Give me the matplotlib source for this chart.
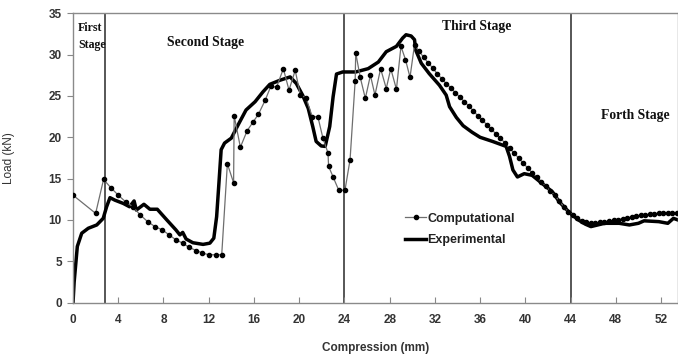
import matplotlib
matplotlib.use("Agg")
import matplotlib.pyplot as plt
from matplotlib.lines import Line2D

# Computational (FE) load-compression values
comp_x = [0, 2.0, 2.7, 3.35, 4.0, 4.65, 5.3, 5.95, 6.6, 7.25, 7.9, 8.5, 9.1, 9.7,
          10.25, 10.9, 11.45, 12.0, 12.6, 13.15, 13.65, 14.2, 14.25, 14.8, 15.4,
          15.9, 16.4, 17.0, 17.5, 18.0, 18.6, 19.1, 19.65, 20.1, 20.6, 21.15,
          21.65, 22.1, 22.55, 22.6, 23.0, 23.5, 24.05, 24.5, 24.95, 25.0, 25.4,
          25.85, 26.3, 26.7, 27.2, 27.7, 28.1, 28.6, 29.0, 29.4, 29.8, 30.2,
          30.6, 31.0, 31.4, 31.8, 32.2, 32.6, 33.0, 33.4, 33.8, 34.2, 34.6,
          35.0, 35.4, 35.8, 36.2, 36.6, 37.0, 37.4, 37.8, 38.2, 38.6, 39.0,
          39.4, 39.8, 40.2, 40.6, 41.0, 41.4, 41.8, 42.2, 42.6, 43.0, 43.4,
          43.8, 44.2, 44.6, 45.0, 45.4, 45.8, 46.2, 46.6, 47.0, 47.4, 47.8,
          48.2, 48.6, 49.0, 49.4, 49.8, 50.2, 50.6, 51.0, 51.4, 51.8, 52.2,
          52.6, 53.0, 53.4]
comp_y = [13.0, 10.8, 14.9, 13.9, 13.0, 12.2, 11.6, 10.6, 9.8, 9.2, 8.8, 8.2, 7.6, 7.2,
          6.7, 6.3, 6.0, 5.8, 5.8, 5.8, 16.8, 14.5, 22.6, 18.8, 20.8,
          21.8, 22.8, 24.5, 26.2, 26.05, 28.3, 25.7, 28.1, 25.1, 24.8, 22.5,
          22.5, 19.9, 18.1, 16.5, 15.2, 13.6, 13.6, 17.3, 26.8, 30.2, 27.25,
          24.7, 27.5, 25.1, 28.3, 25.9, 28.3, 25.8, 31.0, 29.4, 27.25, 31.2,
          30.4, 29.7, 29.0, 28.4, 27.7, 27.1, 26.5, 26.0, 25.4, 24.9, 24.3,
          23.8, 23.2, 22.6, 22.1, 21.5, 21.0, 20.4, 19.9, 19.3, 18.7, 18.1,
          17.5, 16.9, 16.3, 15.7, 15.2, 14.6, 14.1, 13.5, 13.0, 12.3, 11.6,
          11.0, 10.6, 10.2, 9.9, 9.7, 9.6, 9.6, 9.7, 9.8, 9.85, 9.95,
          10.05, 10.15, 10.25, 10.35, 10.45, 10.55, 10.6, 10.7, 10.75, 10.8, 10.8,
          10.8, 10.8, 10.8]

# Experimental load-compression values
exp_x = [0, 0.1, 0.38, 0.77, 1.35, 2.1, 2.67, 2.97, 3.27, 3.7, 4.45, 5.0, 5.4, 5.6,
         6.27, 6.8, 7.45, 8.3, 9.1, 9.45, 9.7, 10.0, 10.6, 11.5, 12.1, 12.45,
         12.7, 12.9, 13.1, 13.4, 14.0, 14.6, 15.3, 16.1, 16.8, 17.4, 18.3,
         19.2, 19.75, 20.3, 20.8, 21.2, 21.5, 21.95, 22.3, 22.7, 23.0, 23.3,
         23.85, 25.0, 26.1, 27.0, 27.7, 28.6, 29.15, 29.45, 29.9, 30.2, 30.3,
         30.8, 31.5, 32.4, 33.0, 33.3, 33.9, 34.5, 35.3, 36.0, 37.1, 38.3,
         38.6, 38.9, 39.3, 39.9, 40.6, 41.5, 42.4, 43.0, 43.9, 44.7, 45.3,
         45.8, 46.4, 47.0, 48.3, 49.2, 50.0, 50.5, 51.8, 52.6, 53.1, 53.5]
exp_y = [0, 2.5, 6.8, 8.4, 9.0, 9.4, 10.2, 11.6, 12.7, 12.4, 12.0, 11.6, 12.3, 11.2,
         11.9, 11.3, 11.3, 10.0, 8.8, 8.2, 8.5, 7.7, 7.25, 7.05, 7.2, 7.8,
         10.4, 14.4, 18.5, 19.3, 19.9, 21.5, 23.3, 24.3, 25.5, 26.4, 26.9,
         27.3, 26.5, 25.1, 23.5, 21.3, 19.5, 18.95, 18.9, 21.3, 24.9, 27.65,
         27.9, 27.9, 28.3, 29.1, 30.35, 31.0, 32.0, 32.4, 32.25, 31.8, 30.55,
         28.95, 27.7, 26.3, 25.1, 23.7, 22.4, 21.4, 20.6, 20.0, 19.5, 18.9,
         17.7, 16.05, 15.2, 15.6, 15.4, 14.4, 13.4, 12.2, 10.9, 10.0, 9.5,
         9.2, 9.4, 9.6, 9.6, 9.4, 9.6, 9.9, 9.8, 9.6, 10.2, 10.0]

stage_bounds = [2.8, 24, 44]
x_ticks = [0, 4, 8, 12, 16, 20, 24, 28, 32, 36, 40, 44, 48, 52]
y_ticks = [0, 5, 10, 15, 20, 25, 30, 35]

fig = plt.figure(figsize=(6.78, 3.58), dpi=100)
ax = fig.add_axes([0.1077, 0.1545, 0.8923, 0.8085])

for xb in stage_bounds:
    ax.axvline(xb, color="#3a3a3a", lw=1.2, zorder=1)

ax.plot(comp_x, comp_y, color="#6e6e6e", lw=0.9, marker="o", ms=3.0,
        mfc="black", mec="black", zorder=3)
ax.plot(exp_x, exp_y, color="black", lw=2.5, zorder=2, solid_joinstyle="round")

ax.set_xlim(0, 53.5)
ax.set_ylim(0, 35)
ax.set_xticks(x_ticks)
ax.set_yticks(y_ticks)

tick_font = dict(family="Liberation Sans", weight="bold", size=8.5)
ax.set_xticklabels([str(t) for t in x_ticks], fontdict=tick_font, color="#333333")
ax.set_yticklabels([str(t) for t in y_ticks], fontdict=tick_font, color="#333333")
ax.tick_params(axis="x", direction="in", length=4, color="#888888", pad=8)
ax.tick_params(axis="y", direction="out", length=4, color="#888888", pad=4)

for s in ["left", "bottom", "top", "right"]:
    ax.spines[s].set_color("#8a8a8a")
    ax.spines[s].set_linewidth(1.0)

ax.set_xlabel("Compression (mm)", family="Liberation Sans", weight="bold",
              size=8.5, color="#333333", labelpad=12)
ax.set_ylabel("Load (kN)", family="Liberation Sans", size=8.5,
              color="#333333", labelpad=24)

stage_font = dict(family="Liberation Serif", weight="bold", size=9.8, color="#111111")
small_stage_font = dict(stage_font, size=8.6)
ax.text(0.45, 33.2, "First", ha="left", va="center", **small_stage_font)
ax.text(0.45, 31.2, "Stage", ha="left", va="center", **small_stage_font)
ax.text(11.7, 31.5, "Second Stage", ha="center", va="center", **stage_font)
ax.text(35.7, 33.4, "Third Stage", ha="center", va="center", **stage_font)
ax.text(49.7, 22.6, "Forth Stage", ha="center", va="center", **stage_font)

handles = [Line2D([], [], color="#6e6e6e", lw=0.9, marker="o", ms=3.0,
                  mfc="black", mec="black"),
           Line2D([], [], color="black", lw=2.5)]
leg = ax.legend(handles, ["Computational", "Experimental"], loc="upper left",
                bbox_to_anchor=(0.53, 0.35), frameon=False, handlelength=1.7,
                handletextpad=0.1, labelspacing=0.75,
                prop=dict(family="Liberation Sans", weight="bold", size=9))
for t in leg.get_texts():
    t.set_color("#222222")

fig.savefig("out.png", dpi=100)
